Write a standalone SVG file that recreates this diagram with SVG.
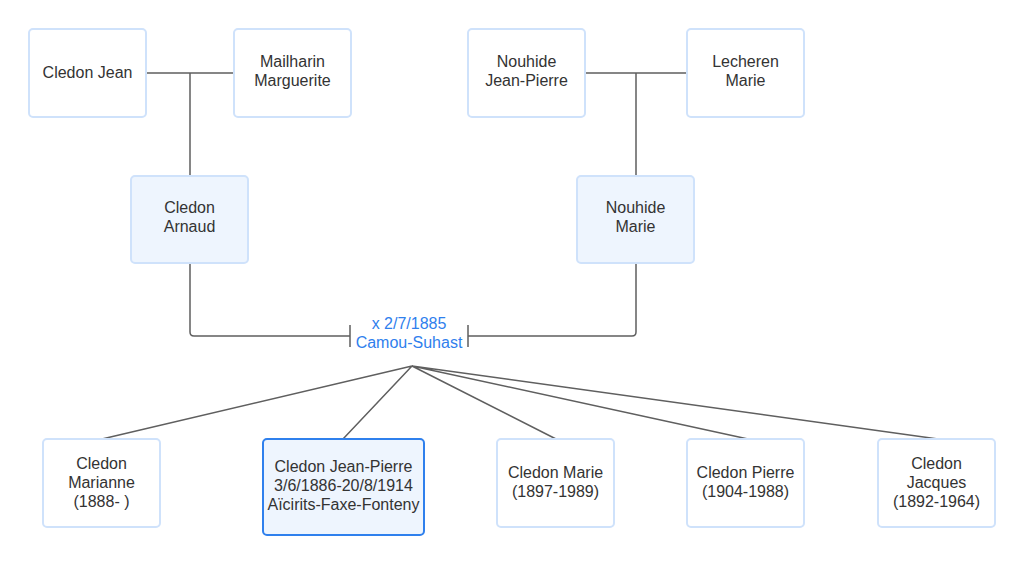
<svg xmlns="http://www.w3.org/2000/svg" width="1024" height="565" viewBox="0 0 1024 565">
<style>
.box{fill:#ffffff;stroke:#cfe2fb;stroke-width:2}
.par{fill:#eef5fe;stroke:#cfe2fb;stroke-width:2}
.main{fill:#eef5fe;stroke:#2f80ed;stroke-width:2}
text{font-family:"Liberation Sans",Arial,sans-serif;font-size:16px;fill:#333333;text-anchor:middle}
.lbl{fill:#2f80ed}
.ln{fill:none;stroke:#5f5f5f;stroke-width:1.5}
</style>
<rect width="1024" height="565" fill="#ffffff"/>
<g id="connectors">
<path class="ln" d="M146 73H234M190 73V176"/>
<path class="ln" d="M585 73H687M636 73V176"/>
<path class="ln" d="M190 263V332Q190 336 194 336H350M350 325V347"/>
<path class="ln" d="M636 263V332Q636 336 632 336H468M468 325V347"/>
<path class="ln" d="M412 366L102 439M412 366L343 439M412 366L556 439M412 366L748 439M412 366L938 439"/>
</g>
<g id="marriage-label"><text class="lbl" x="409" y="329">x 2/7/1885</text><text class="lbl" x="409" y="348">Camou-Suhast</text></g>
<g id="cledon-jean"><rect class="box" x="29" y="29" width="117" height="88" rx="4"/><text x="87.5" y="78">Cledon Jean</text></g>
<g id="mailharin-marguerite"><rect class="box" x="234" y="29" width="117" height="88" rx="4"/><text x="292.5" y="67">Mailharin</text><text x="292.5" y="86">Marguerite</text></g>
<g id="nouhide-jean-pierre"><rect class="box" x="468" y="29" width="117" height="88" rx="4"/><text x="526.5" y="67">Nouhide</text><text x="526.5" y="86">Jean-Pierre</text></g>
<g id="lecheren-marie"><rect class="box" x="687" y="29" width="117" height="88" rx="4"/><text x="745.5" y="67">Lecheren</text><text x="745.5" y="86">Marie</text></g>
<g id="cledon-arnaud"><rect class="par" x="131" y="176" width="117" height="87" rx="4"/><text x="189.5" y="213">Cledon</text><text x="189.5" y="232">Arnaud</text></g>
<g id="nouhide-marie"><rect class="par" x="577" y="176" width="117" height="87" rx="4"/><text x="635.5" y="213">Nouhide</text><text x="635.5" y="232">Marie</text></g>
<g id="cledon-marianne"><rect class="box" x="43" y="439" width="117" height="88" rx="4"/><text x="101.5" y="469">Cledon</text><text x="101.5" y="488">Marianne</text><text x="101.5" y="507">(1888- )</text></g>
<g id="cledon-jean-pierre"><rect class="main" x="263" y="439" width="161" height="96" rx="4"/><text x="343.5" y="472">Cledon Jean-Pierre</text><text x="343.5" y="491">3/6/1886-20/8/1914</text><text x="343.5" y="510">Aïcirits-Faxe-Fonteny</text></g>
<g id="cledon-marie"><rect class="box" x="497" y="439" width="117" height="88" rx="4"/><text x="555.5" y="478">Cledon Marie</text><text x="555.5" y="497">(1897-1989)</text></g>
<g id="cledon-pierre"><rect class="box" x="687" y="439" width="117" height="88" rx="4"/><text x="745.5" y="478">Cledon Pierre</text><text x="745.5" y="497">(1904-1988)</text></g>
<g id="cledon-jacques"><rect class="box" x="878" y="439" width="117" height="88" rx="4"/><text x="936.5" y="469">Cledon</text><text x="936.5" y="488">Jacques</text><text x="936.5" y="507">(1892-1964)</text></g>
</svg>
